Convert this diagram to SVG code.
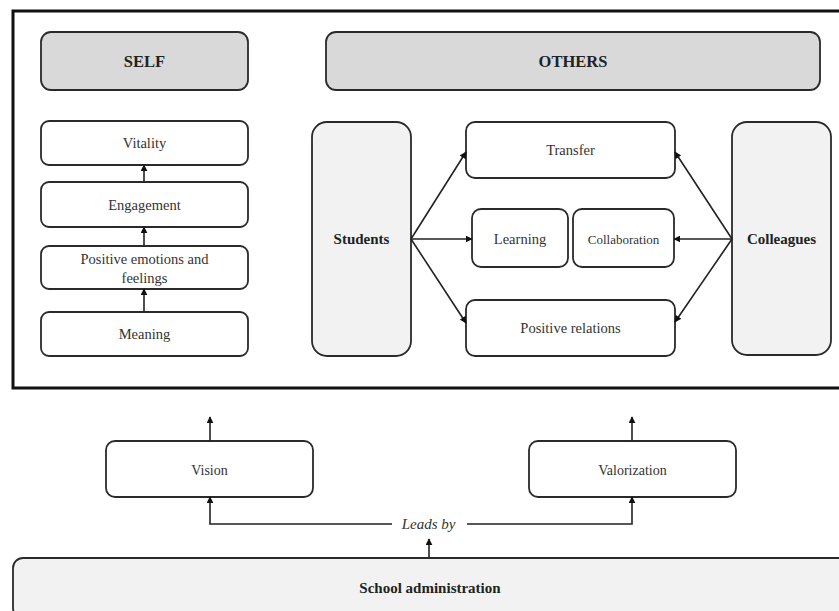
<svg xmlns="http://www.w3.org/2000/svg" width="839" height="611" viewBox="0 0 839 611">
<defs>
<style>
.box{fill:#fff;stroke:#2a2a2a;stroke-width:1.8}
.head{fill:#d9d9d9;stroke:#2a2a2a;stroke-width:1.8}
.side{fill:#f2f2f2;stroke:#2a2a2a;stroke-width:1.8}
.t{font-family:"Liberation Serif","Times New Roman",serif;font-size:14.5px;fill:#333;text-anchor:middle;dominant-baseline:central}
.b{font-weight:bold;fill:#222;font-size:15px}
.conn{fill:none;stroke:#222;stroke-width:1.6}
</style>
<marker id="ah" viewBox="0 0 10 10" refX="9" refY="5" markerWidth="7" markerHeight="7" markerUnits="userSpaceOnUse" orient="auto">
<path d="M0,0 L10,5 L0,10 z" fill="#111"/>
</marker>
</defs>
<rect width="839" height="611" fill="#fff"/>
<rect id="frame" x="13" y="11" width="840" height="377" fill="none" stroke="#111" stroke-width="3"/>

<g id="self"><rect class="head" x="41" y="32" width="207" height="58" rx="10"/><text class="t b" x="144.5" y="61" style="font-size:16.5px">SELF</text></g>
<g id="others"><rect class="head" x="326" y="32" width="494" height="58" rx="10"/><text class="t b" x="573" y="61" style="font-size:16.5px">OTHERS</text></g>

<g id="vitality"><rect class="box" x="41" y="121" width="207" height="44" rx="8"/><text class="t" x="144.5" y="143">Vitality</text></g>
<g id="engagement"><rect class="box" x="41" y="182" width="207" height="45" rx="8"/><text class="t" x="144.5" y="204.5">Engagement</text></g>
<g id="positive-emotions"><rect class="box" x="41" y="246" width="207" height="43" rx="8"/><text class="t" x="144.5" y="259">Positive emotions and</text><text class="t" x="144.5" y="278">feelings</text></g>
<g id="meaning"><rect class="box" x="41" y="312" width="207" height="44" rx="8"/><text class="t" x="144.5" y="334">Meaning</text></g>

<g id="students"><rect class="side" x="312" y="122" width="99" height="234" rx="15"/><text class="t b" x="361.5" y="239">Students</text></g>
<g id="colleagues"><rect class="side" x="732" y="122" width="99" height="233" rx="15"/><text class="t b" x="781.5" y="239">Colleagues</text></g>
<g id="transfer"><rect class="box" x="466" y="122" width="209" height="56" rx="9"/><text class="t" x="570.5" y="150">Transfer</text></g>
<g id="learning"><rect class="box" x="472" y="209" width="96" height="58" rx="9"/><text class="t" x="520" y="239">Learning</text></g>
<g id="collaboration"><rect class="box" x="573" y="209" width="101" height="58" rx="9"/><text class="t" x="623.5" y="239" style="font-size:13px">Collaboration</text></g>
<g id="positive-relations"><rect class="box" x="466" y="300" width="209" height="56" rx="9"/><text class="t" x="570.5" y="328">Positive relations</text></g>

<g id="vision"><rect class="box" x="106" y="441" width="207" height="56" rx="9"/><text class="t" x="209.5" y="470" style="font-size:14px">Vision</text></g>
<g id="valorization"><rect class="box" x="529" y="441" width="207" height="56" rx="9"/><text class="t" x="632.5" y="470" style="font-size:14px">Valorization</text></g>
<g id="school-administration"><rect class="side" x="13" y="558" width="840" height="60" rx="10"/><text class="t b" x="430" y="588">School administration</text></g>

<g id="connectors">
<line class="conn" x1="144" y1="312" x2="144" y2="289" marker-end="url(#ah)"/>
<line class="conn" x1="144" y1="246" x2="144" y2="227" marker-end="url(#ah)"/>
<line class="conn" x1="144" y1="182" x2="144" y2="165" marker-end="url(#ah)"/>
<line class="conn" x1="411" y1="239" x2="466" y2="152" marker-end="url(#ah)"/>
<line class="conn" x1="411" y1="239" x2="472" y2="239" marker-end="url(#ah)"/>
<line class="conn" x1="411" y1="239" x2="466" y2="323" marker-end="url(#ah)"/>
<line class="conn" x1="732" y1="239" x2="675" y2="152" marker-end="url(#ah)"/>
<line class="conn" x1="732" y1="239" x2="674" y2="239" marker-end="url(#ah)"/>
<line class="conn" x1="732" y1="239" x2="675" y2="322" marker-end="url(#ah)"/>
<line class="conn" x1="210" y1="441" x2="210" y2="417" marker-end="url(#ah)"/>
<line class="conn" x1="632" y1="441" x2="632" y2="417" marker-end="url(#ah)"/>
<polyline class="conn" points="392,524 210,524 210,497" marker-end="url(#ah)"/>
<polyline class="conn" points="467,524 632,524 632,497" marker-end="url(#ah)"/>
<line class="conn" x1="429" y1="558" x2="429" y2="539" marker-end="url(#ah)"/>
<text class="t" x="428.5" y="524" style="font-style:italic;font-size:15px">Leads by</text>
</g>
</svg>
